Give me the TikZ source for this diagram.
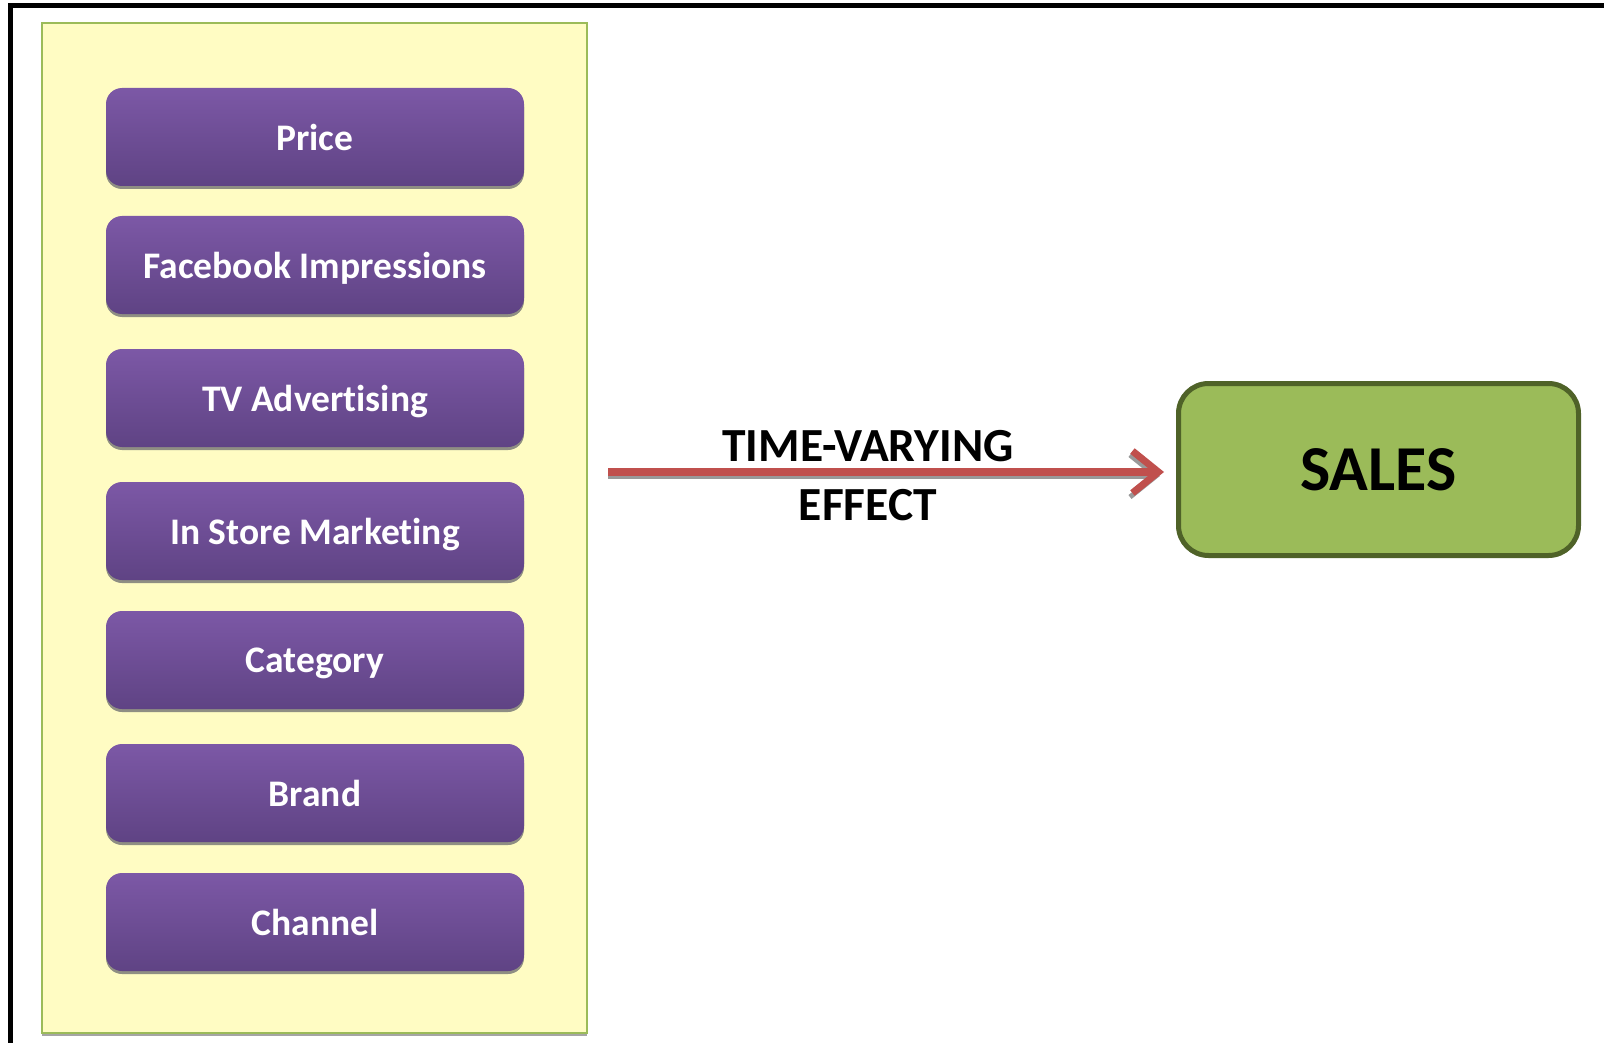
\documentclass[tikz,border=0pt]{standalone}
\usepackage{fontspec}
\setmainfont{Carlito}[RawFeature=-liga]
\usetikzlibrary{arrows.meta,shadows}
\definecolor{panelfill}{HTML}{FFFCC3}
\definecolor{panelline}{HTML}{9BBB59}
\definecolor{purptop}{HTML}{7C58A6}
\definecolor{purpbot}{HTML}{5F4384}
\definecolor{salesfill}{HTML}{9BBB59}
\definecolor{salesline}{HTML}{4F6228}
\definecolor{arrred}{HTML}{C0504D}
\tikzset{
  factor/.style={rounded corners=16pt, minimum width=418pt, minimum height=98pt,
    top color=purptop, bottom color=purpbot, draw=none, text=white,
    text depth=0pt,
    font=\fontsize{37.5}{42}\selectfont\bfseries,
    drop shadow={shadow xshift=0pt, shadow yshift=-3pt, fill=black!55, opacity=0.8}},
  panelbox/.style={draw=panelline, line width=2pt, fill=panelfill,
    minimum width=545pt, minimum height=1010pt,
    drop shadow={shadow xshift=0pt, shadow yshift=-3pt, fill=black!50, opacity=0.7}},
  salesbox/.style={draw=salesline, line width=5pt, fill=salesfill, rounded corners=30pt,
    minimum width=400pt, minimum height=172pt, font=\fontsize{64}{70}\selectfont\bfseries},
  effarrow/.style={draw=arrred, line width=8pt,
    -{Straight Barb[length=26pt,width=42pt,line width=7pt]}},
  shadowarrow/.style={draw=black!40, line width=6pt,
    -{Straight Barb[length=26pt,width=42pt,line width=5pt]}},
  efflabel/.style={font=\fontsize{47.5}{52}\selectfont\bfseries}
}
\begin{document}
\begin{tikzpicture}[x=1pt,y=-1pt]
\useasboundingbox (0,0) rectangle (1604,1043);
\fill[white] (0,0) rectangle (1604,1043);
% frame
\draw[line width=5pt, black] (10.8,1043) -- (10.8,5.8) -- (1604,5.8);
% panel
\node[panelbox] (panel) at (314.5,528) {};
% factor boxes
\node[factor] (price) at (315,137) {Price};
\node[factor] (fb) at (315,265) {Facebook Impressions};
\node[factor] (tv) at (315,398) {TV Advertising};
\node[factor] (store) at (315,531) {In Store Marketing};
\node[factor] (cat) at (315,660) {Category};
\node[factor] (brand) at (315,793) {Brand};
\node[factor] (chan) at (315,922) {Channel};
% sales
\node[salesbox] (sales) at (1378.5,469.5) {SALES};
% arrow
\coordinate (arrstart) at (608,472);
\coordinate (shstart) at (608,476);
\coordinate (shend) at (1160,476);
\draw[shadowarrow] (shstart) -- (shend);
\draw[effarrow] (arrstart) -- (1164,472);
\node[efflabel] (lab1) at (868,446) {TIME-VARYING};
\node[efflabel] (lab2) at (868,505) {EFFECT};
\end{tikzpicture}
\end{document}
